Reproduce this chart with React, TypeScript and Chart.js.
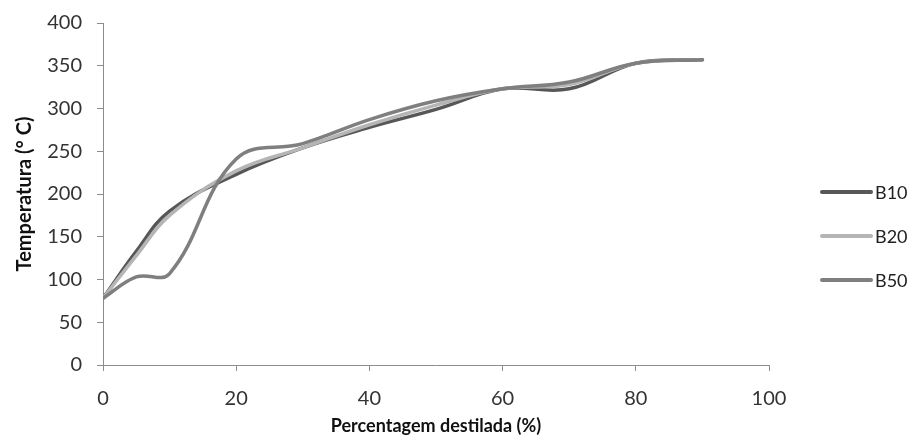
import React, { useEffect, useRef } from "react";
import { Chart, registerables } from "chart.js";

Chart.register(...registerables);

// Data
const distilled = [0, 5, 10, 20, 30, 40, 50, 60, 70, 80, 90];
const b10 = [78, 133, 180, 223, 254, 278, 299, 323, 323, 353, 357];
const b20 = [78, 128, 175, 227, 254, 281, 304, 323, 328, 353, 357];
const b50 = [78, 103, 107, 241, 259, 287, 309, 323, 331, 353, 357];
const seriesNames = ["B10", "B20", "B50"];
const seriesColors = ["#575757", "#b5b5b5", "#7f7f7f"];
const xTickValues = [0, 20, 40, 60, 80, 100];
const yTickValues = [0, 50, 100, 150, 200, 250, 300, 350, 400];
const xTitle = "Percentagem destilada (%)";
const yTitle = "Temperatura (° C)";

const FONT = "Lato, 'Open Sans', sans-serif";

const sideLegend = {
  id: "sideLegend",
  afterDraw(chart: any) {
    const { ctx, chartArea } = chart;
    const x0 = chartArea.right + 53;
    const lineLen = 49;
    const mid = (chartArea.top + chartArea.bottom) / 2;
    const spacing = 44;
    const n = chart.data.datasets.length;
    ctx.save();
    chart.data.datasets.forEach((ds: any, i: number) => {
      const y = mid + (i - (n - 1) / 2) * spacing + 42;
      ctx.strokeStyle = ds.borderColor;
      ctx.lineWidth = 4;
      ctx.lineCap = "round";
      ctx.beginPath();
      ctx.moveTo(x0, y);
      ctx.lineTo(x0 + lineLen, y);
      ctx.stroke();
      ctx.fillStyle = "#222";
      ctx.font = `18px ${FONT}`;
      ctx.textBaseline = "middle";
      ctx.textAlign = "left";
      ctx.fillText(ds.label, x0 + lineLen + 4, y + 1);
    });
    ctx.restore();
  },
};

export default function App() {
  const ref = useRef<HTMLCanvasElement | null>(null);

  useEffect(() => {
    if (!ref.current) return;
    const series = [b10, b20, b50];
    const chart = new Chart(ref.current, {
      type: "line",
      data: {
        datasets: series.map((vals, i) => ({
          label: seriesNames[i],
          data: vals.map((v, j) => ({ x: distilled[j], y: v })),
          borderColor: seriesColors[i],
          backgroundColor: seriesColors[i],
          borderWidth: 3.5,
          borderCapStyle: "round" as const,
          borderJoinStyle: "round" as const,
          pointRadius: 0,
          tension: 0.4,
          fill: false,
          order: 2 - i,
        })),
      },
      options: {
        animation: false,
        responsive: true,
        maintainAspectRatio: false,
        layout: { padding: { left: 0, right: 141, top: 15, bottom: 0 } },
        plugins: {
          legend: { display: false },
          tooltip: { enabled: false },
        },
        scales: {
          x: {
            type: "linear",
            min: 0,
            max: 100,
            afterFit: (s: any) => {
              s.height = 72;
              s.paddingLeft = 0;
              s.paddingRight = 0;
            },
            afterBuildTicks: (s: any) => {
              s.ticks = xTickValues.map((v) => ({ value: v }));
            },
            ticks: {
              padding: 16,
              color: "#333",
              font: { family: FONT, size: 20 },
            },
            grid: {
              display: true,
              drawOnChartArea: false,
              drawTicks: true,
              tickLength: 6,
              color: "#8c8c8c",
            },
            border: { display: true, color: "#8c8c8c", width: 1 },
            title: {
              display: true,
              text: xTitle,
              color: "#111",
              font: { family: FONT, size: 18, weight: "bold" },
              padding: { top: 0, bottom: 0 },
            },
          },
          y: {
            type: "linear",
            min: 0,
            max: 400,
            afterFit: (s: any) => {
              s.width = 95;
              s.paddingTop = 0;
              s.paddingBottom = 0;
            },
            afterBuildTicks: (s: any) => {
              s.ticks = yTickValues.map((v) => ({ value: v }));
            },
            ticks: {
              padding: 15,
              color: "#333",
              font: { family: FONT, size: 20 },
            },
            grid: {
              display: true,
              drawOnChartArea: false,
              drawTicks: true,
              tickLength: 6,
              color: "#8c8c8c",
            },
            border: { display: true, color: "#8c8c8c", width: 1 },
            title: {
              display: true,
              text: yTitle,
              color: "#111",
              font: { family: FONT, size: 20, weight: "bold" },
              padding: { top: 5, bottom: 0 },
            },
          },
        },
      },
      plugins: [sideLegend],
    });
    return () => chart.destroy();
  }, []);

  return (
    <div style={{ position: "relative", height: 429 }}>
      <canvas ref={ref} />
    </div>
  );
}
